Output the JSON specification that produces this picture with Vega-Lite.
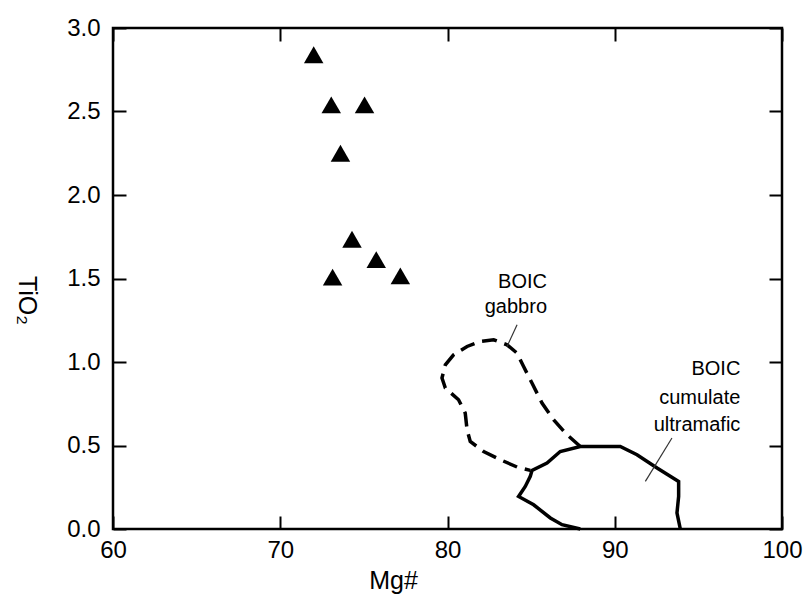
{
  "$schema": "https://vega.github.io/schema/vega-lite/v6.json",
  "width": 669,
  "height": 501,
  "autosize": {"type": "none"},
  "padding": {"left": 113, "top": 28, "right": 22, "bottom": 65},
  "background": "white",
  "config": {
    "view": {"stroke": "#000", "strokeWidth": 2.5},
    "font": "Liberation Sans",
    "axis": {
      "domain": false, "grid": false, "ticks": true,
      "tickColor": "#000", "tickWidth": 2, "tickSize": -13,
      "labelFlush": false, "labelOverlap": false,
      "labelColor": "#000", "labelFont": "Liberation Sans", "labelFontSize": 24,
      "titleFont": "Liberation Sans", "titleFontSize": 25, "titleFontWeight": "normal", "titleColor": "#000"
    }
  },
  "datasets": {
    "samples": [
      {"mg": 72.0, "ti": 2.84},
      {"mg": 73.05, "ti": 2.54},
      {"mg": 75.04, "ti": 2.54},
      {"mg": 73.6, "ti": 2.25},
      {"mg": 74.29, "ti": 1.735},
      {"mg": 75.74, "ti": 1.613},
      {"mg": 73.13, "ti": 1.508},
      {"mg": 77.18, "ti": 1.516}
    ],
    "gabbro": [
      {"o": 1, "mg": 87.94, "ti": 0.494},
      {"o": 2, "mg": 87.15, "ti": 0.564},
      {"o": 3, "mg": 86.34, "ti": 0.654},
      {"o": 4, "mg": 85.65, "ti": 0.754},
      {"o": 5, "mg": 85.05, "ti": 0.874},
      {"o": 6, "mg": 84.55, "ti": 0.973},
      {"o": 7, "mg": 84.16, "ti": 1.053},
      {"o": 8, "mg": 83.56, "ti": 1.103},
      {"o": 9, "mg": 82.76, "ti": 1.133},
      {"o": 10, "mg": 81.96, "ti": 1.123},
      {"o": 11, "mg": 81.17, "ti": 1.093},
      {"o": 12, "mg": 80.36, "ti": 1.043},
      {"o": 13, "mg": 79.87, "ti": 0.983},
      {"o": 14, "mg": 79.67, "ti": 0.904},
      {"o": 15, "mg": 79.87, "ti": 0.844},
      {"o": 16, "mg": 80.66, "ti": 0.774},
      {"o": 17, "mg": 81.06, "ti": 0.694},
      {"o": 18, "mg": 81.17, "ti": 0.594},
      {"o": 19, "mg": 81.36, "ti": 0.524},
      {"o": 20, "mg": 82.16, "ti": 0.464},
      {"o": 21, "mg": 83.16, "ti": 0.415},
      {"o": 22, "mg": 84.16, "ti": 0.371},
      {"o": 23, "mg": 84.95, "ti": 0.351}
    ],
    "ultramafic": [
      {"o": 1, "mg": 87.94, "ti": 0.0},
      {"o": 2, "mg": 86.85, "ti": 0.026},
      {"o": 3, "mg": 86.15, "ti": 0.066},
      {"o": 4, "mg": 85.15, "ti": 0.145},
      {"o": 5, "mg": 84.25, "ti": 0.195},
      {"o": 6, "mg": 84.65, "ti": 0.255},
      {"o": 7, "mg": 84.95, "ti": 0.315},
      {"o": 8, "mg": 85.05, "ti": 0.35},
      {"o": 9, "mg": 85.95, "ti": 0.395},
      {"o": 10, "mg": 86.74, "ti": 0.464},
      {"o": 11, "mg": 87.94, "ti": 0.494},
      {"o": 12, "mg": 90.33, "ti": 0.494},
      {"o": 13, "mg": 91.33, "ti": 0.445},
      {"o": 14, "mg": 92.53, "ti": 0.365},
      {"o": 15, "mg": 93.82, "ti": 0.285},
      {"o": 16, "mg": 93.82, "ti": 0.195},
      {"o": 17, "mg": 93.72, "ti": 0.096},
      {"o": 18, "mg": 93.92, "ti": 0.0}
    ],
    "leaders": [
      {"mg": 84.16, "ti": 1.223, "mg2": 83.56, "ti2": 1.093},
      {"mg": 93.42, "ti": 0.545, "mg2": 91.83, "ti2": 0.285}
    ],
    "labels": [
      {"mg": 85.95, "ti": 1.442, "t": "BOIC"},
      {"mg": 85.95, "ti": 1.296, "t": "gabbro"},
      {"mg": 97.51, "ti": 0.923, "t": "BOIC"},
      {"mg": 97.51, "ti": 0.75, "t": "cumulate"},
      {"mg": 97.51, "ti": 0.584, "t": "ultramafic"}
    ]
  },
  "layer": [
    {
      "data": {"name": "samples"},
      "mark": {"type": "point", "shape": "triangle-up", "filled": true, "color": "#000", "opacity": 1, "size": 380},
      "encoding": {
        "x": {"field": "mg", "type": "quantitative", "scale": {"domain": [60, 100], "nice": false, "zero": false},
              "axis": {"orient": "bottom", "title": "Mg#", "values": [60, 70, 80, 90, 100], "format": "d", "labelPadding": 22, "titleX": 280, "titleY": 39, "titleBaseline": "top", "titleAnchor": null, "titleAlign": "center"}},
        "y": {"field": "ti", "type": "quantitative", "scale": {"domain": [0, 3], "nice": false, "zero": false},
              "axis": {"orient": "left", "title": "TiO₂", "values": [0, 0.5, 1, 1.5, 2, 2.5, 3], "format": ".1f", "labelPadding": 26, "titleAngle": 90, "titleX": -95, "titleY": 272, "titleBaseline": "alphabetic", "titleAlign": "center", "titleAnchor": null}}
      }
    },
    {
      "data": {"name": "gabbro"},
      "mark": {"type": "line", "color": "#000", "strokeWidth": 3.5, "strokeDash": [15, 8]},
      "encoding": {
        "x": {"field": "mg", "type": "quantitative", "scale": {"domain": [60, 100], "nice": false, "zero": false},
              "axis": {"orient": "top", "title": null, "labels": false, "values": [60, 70, 80, 90, 100]}},
        "y": {"field": "ti", "type": "quantitative", "scale": {"domain": [0, 3], "nice": false, "zero": false},
              "axis": {"orient": "right", "title": null, "labels": false, "values": [0, 0.5, 1, 1.5, 2, 2.5, 3]}},
        "order": {"field": "o", "type": "quantitative"}
      }
    },
    {
      "data": {"name": "ultramafic"},
      "mark": {"type": "line", "color": "#000", "strokeWidth": 3.5},
      "encoding": {
        "x": {"field": "mg", "type": "quantitative", "axis": null},
        "y": {"field": "ti", "type": "quantitative", "axis": null},
        "order": {"field": "o", "type": "quantitative"}
      }
    },
    {
      "data": {"name": "leaders"},
      "mark": {"type": "rule", "color": "#333", "strokeWidth": 1.2},
      "encoding": {
        "x": {"field": "mg", "type": "quantitative", "axis": null},
        "y": {"field": "ti", "type": "quantitative", "axis": null},
        "x2": {"field": "mg2"},
        "y2": {"field": "ti2"}
      }
    },
    {
      "data": {"name": "labels"},
      "mark": {"type": "text", "align": "right", "baseline": "alphabetic", "fontSize": 20, "font": "Liberation Sans", "color": "#000"},
      "encoding": {
        "x": {"field": "mg", "type": "quantitative", "axis": null},
        "y": {"field": "ti", "type": "quantitative", "axis": null},
        "text": {"field": "t"}
      }
    }
  ],
  "resolve": {"axis": {"x": "independent", "y": "independent"}}
}
